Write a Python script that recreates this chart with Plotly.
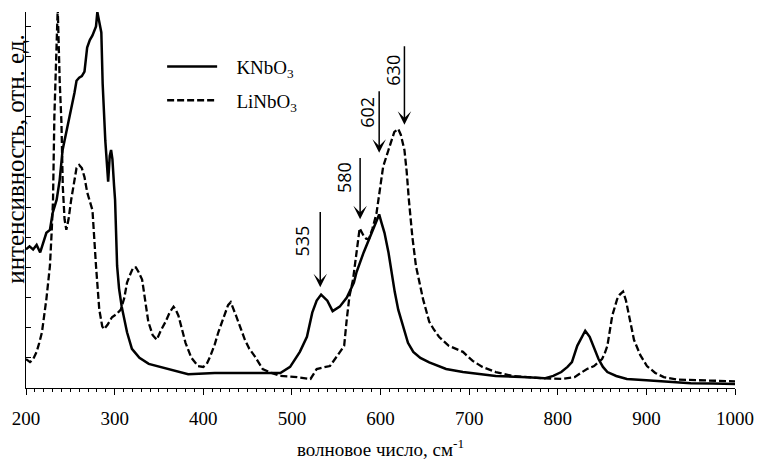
import plotly.graph_objects as go

# ---------------- data ----------------
k_x = [200, 204, 208, 212, 216, 220, 223, 227, 230, 234.6, 238, 241.3, 245, 249, 254.7, 257, 260, 263,
       266, 269, 272, 275, 279, 280.5, 283, 285, 286.5, 288, 289.5, 292.7, 294.5, 296, 297.5, 299.4,
       300.5, 302.8, 305, 308, 314, 319.5, 328, 338.5, 361, 383, 413, 450, 487, 498, 509, 517, 523,
       528, 533, 540, 546, 554, 562, 570, 573, 581, 586.6, 592, 598.5, 601, 604.5, 609, 612, 616, 620,
       626, 631, 637, 645, 655, 674, 693, 711, 730, 766, 785, 795, 804, 811, 816, 822, 827, 831, 836,
       841, 846, 851, 856, 866, 878, 900, 925, 950, 975, 1000]
k_y = [4.6, 4.7, 4.6, 4.75, 4.5, 4.9, 5.15, 5.25, 5.8, 6.25, 6.9, 7.9, 8.4, 9.0, 9.8, 10.2, 10.3, 10.35,
       10.5, 11.3, 11.55, 11.7, 12.0, 12.48, 12.1, 11.8, 10.1, 9.0, 8.2, 6.85, 7.7, 7.9, 7.6, 6.7,
       6.25, 4.05, 3.3, 2.7, 1.85, 1.3, 1.0, 0.8, 0.63, 0.46, 0.5, 0.5, 0.5, 0.7, 1.2, 1.7, 2.5,
       2.9, 3.1, 2.9, 2.55, 2.7, 3.0, 3.5, 3.85, 4.5, 4.9, 5.3, 5.76, 5.5, 5.15, 4.5, 3.9, 3.2, 2.6,
       1.95, 1.5, 1.2, 1.0, 0.85, 0.63, 0.53, 0.46, 0.4, 0.36, 0.32, 0.4, 0.53, 0.7, 0.86, 1.4, 1.7, 1.9, 1.7,
       1.3, 0.96, 0.7, 0.53, 0.4, 0.3, 0.26, 0.2, 0.16, 0.15, 0.13]

li_x = [200, 204.5, 208, 212, 215, 218, 223, 227, 229, 230.5, 232, 234, 235.8, 238, 240, 241.5, 243.5,
        245.5, 248, 251, 254.7, 257, 260, 263, 266, 269, 272, 275, 279, 282.7, 286, 288, 292, 297,
        302, 307, 311, 314, 318, 321, 324, 327, 331, 334, 338, 343, 347.5, 352, 357.5, 362, 366.5,
        369, 372, 376, 380, 386.6, 394, 400, 404, 408, 413, 417, 421, 424.5, 428, 431, 434, 437, 442,
        447, 452, 458, 467, 477, 487, 506, 521, 524, 528, 535, 543, 551, 556, 559, 562, 565, 569,
        571.5, 573, 576.5, 581, 584, 587, 591, 595.5, 599, 603, 609, 612, 615.6, 620, 623, 627, 629.5,
        632, 636, 640, 644, 648, 655, 660, 666, 677, 693, 704, 715, 730, 749, 766, 785, 804, 819, 826,
        833, 841, 846, 850, 853, 856, 861.5, 867, 870, 873.7, 877, 882, 886, 893, 900.6, 910, 919.6,
        935, 960, 1000]
li_y = [0.96, 0.86, 0.95, 1.2, 1.5, 1.85, 2.95, 4.05, 5.2, 6.25, 9.0, 11.2, 12.6, 10.2, 8.8, 6.7, 5.6,
        5.25, 5.6, 6.25, 7.0, 7.3, 7.4, 7.3, 7.0, 6.5, 6.2, 5.9, 4.05, 2.6, 2.05, 1.95, 2.1, 2.35,
        2.45, 2.6, 3.0, 3.5, 3.8, 4.0, 4.0, 3.85, 3.6, 3.0, 2.2, 1.75, 1.6, 1.9, 2.2, 2.5, 2.7,
        2.6, 2.4, 1.95, 1.5, 1.0, 0.73, 0.7, 0.8, 1.06, 1.45, 1.85, 2.2, 2.5, 2.75, 2.85, 2.65, 2.4, 2.0,
        1.6, 1.3, 1.06, 0.63, 0.5, 0.4, 0.36, 0.3, 0.45, 0.63, 0.68, 0.73, 1.06, 1.25, 1.4, 2.3, 3.05, 3.6,
        4.2, 4.5, 5.3, 5.05, 4.95, 4.95, 5.3, 5.8, 6.5, 7.35, 7.9, 8.2, 8.5, 8.6, 8.4, 7.9, 7.2,
        6.25, 5.0, 4.05, 3.5, 2.95, 2.2, 1.95, 1.7, 1.4, 1.2, 0.9, 0.7, 0.53, 0.4, 0.36, 0.32, 0.3, 0.36, 0.5,
        0.63, 0.73, 0.85, 0.96, 1.15, 1.4, 2.4, 2.95, 3.1, 3.2, 2.9, 2.2, 1.6, 1.1, 0.73, 0.5, 0.36,
        0.28, 0.25, 0.22]

series_names = ["&nbsp;&nbsp;&nbsp;KNbO<sub>3</sub>", "&nbsp;&nbsp;&nbsp;LiNbO<sub>3</sub>"]

x_ticks = [200, 300, 400, 500, 600, 700, 800, 900, 1000]

peak_labels = ["535", "580", "602", "630"]
arrow_x = [532, 577, 598.5, 627]
arrow_tip_y = [3.34, 5.6, 7.81, 8.74]
arrow_top_y = [5.89, 7.68, 9.9, 11.39]
label_x = [511.7, 558.8, 583.8, 613.9]
label_y = [4.87, 7.0, 9.14, 10.56]

x_title = "волновое число, см<sup>-1</sup>"
y_title = "интенсивность, отн. ед."

# ---------------- figure ----------------
SERIF = "Liberation Serif, Times New Roman, Tinos, DejaVu Serif, serif"

fig = go.Figure()
fig.add_trace(go.Scatter(x=k_x, y=k_y, mode="lines", name=series_names[0], legendgroup="a",
                         line=dict(color="black", width=2.5)))
fig.add_trace(go.Scatter(x=li_x, y=li_y, mode="lines", name=series_names[1], legendgroup="b",
                         line=dict(color="black", width=2.3, dash="7px,3px")))

for lx, tip, top, tx, ty, lab in zip(arrow_x, arrow_tip_y, arrow_top_y, label_x, label_y, peak_labels):
    fig.add_annotation(x=lx, y=tip, ax=lx, ay=top, axref="x", ayref="y", xref="x", yref="y",
                       text="", showarrow=True, arrowhead=3, arrowsize=1.5, arrowwidth=1.5,
                       arrowcolor="black")
    fig.add_annotation(x=tx, y=ty, xref="x", yref="y", text=lab, showarrow=False, textangle=-90,
                       xanchor="center", yanchor="middle",
                       font=dict(family="Open Sans", size=18, color="black"))

fig.add_annotation(x=-0.014, y=0.61, xref="paper", yref="paper", text=y_title, showarrow=False,
                   textangle=-90, xanchor="center", yanchor="middle",
                   font=dict(family=SERIF, size=25, color="black"))

fig.update_layout(
    width=766, height=468,
    margin=dict(l=26, r=24, t=12, b=79),
    paper_bgcolor="white", plot_bgcolor="white",
    showlegend=True,
    legend=dict(x=0.192, y=0.905, xanchor="left", yanchor="top", bgcolor="rgba(0,0,0,0)",
                font=dict(family=SERIF, size=19, color="black"), tracegroupgap=6, itemwidth=50),
    xaxis=dict(range=[200, 1000], tickmode="array", tickvals=x_ticks, ticks="outside", ticklen=6,
               tickwidth=1.3, tickcolor="black", showline=True, linecolor="black", linewidth=1.3,
               showgrid=False, zeroline=False, ticklabelstandoff=7,
               tickfont=dict(family=SERIF, size=19, color="black"),
               minor=dict(dtick=10, tick0=200, ticks="outside", ticklen=3, tickwidth=1, tickcolor="black"),
               title=dict(text=x_title, font=dict(family=SERIF, size=19, color="black"), standoff=14)),
    yaxis=dict(range=[0, 12.48], dtick=1, tick0=0, ticks="inside", ticklen=5, tickwidth=1.2,
               tickcolor="black", showline=True, linecolor="black", linewidth=1.3, showticklabels=False,
               showgrid=False, zeroline=False),
)

fig.write_html("out.html")
